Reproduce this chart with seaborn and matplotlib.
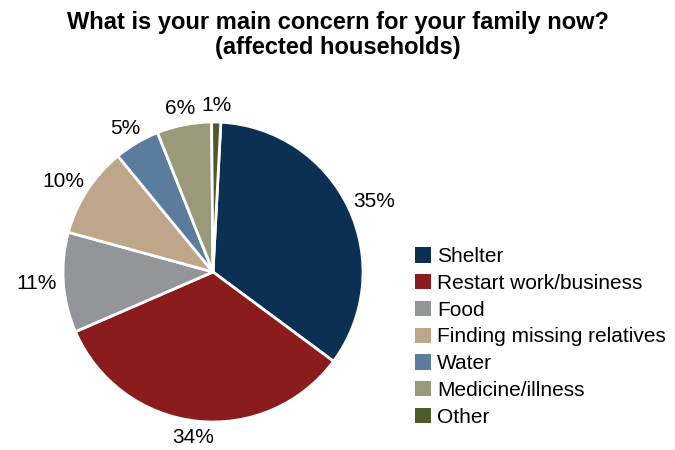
import matplotlib
matplotlib.use("Agg")
import numpy as np
import matplotlib.pyplot as plt
import seaborn as sns
from matplotlib.patches import Patch

sns.set_style("white")
plt.rcParams['font.family'] = ['Liberation Sans', 'DejaVu Sans']
plt.rcParams['text.color'] = 'black'

categories = ["Shelter", "Restart work/business", "Food", "Finding missing relatives",
              "Water", "Medicine/illness", "Other"]
values = [35, 34, 11, 10, 5, 6, 1]
labels = ["35%", "34%", "11%", "10%", "5%", "6%", "1%"]
colors = ["#0b3054", "#8b1c1e", "#939598", "#bea68a", "#5a7d9e", "#9a9a7b", "#4e5a2b"]

W, H = 675, 450
fig = plt.figure(figsize=(W / 100, H / 100), dpi=100)
cx, cy, r = 213, 272, 150
ax = fig.add_axes([(cx - r) / W, (H - cy - r) / H, 2 * r / W, 2 * r / H])
wedges, texts = ax.pie(values, colors=colors, labels=labels, startangle=87, counterclock=False,
                       labeldistance=1.1, radius=1,
                       wedgeprops=dict(edgecolor="white", linewidth=2),
                       textprops=dict(fontsize=15, color="black"))
ax.set_xlim(-1, 1)
ax.set_ylim(-1, 1)
ax.set_aspect("equal")
ax.axis("off")

# place each label just outside the pie, box edge at a fixed gap (outside-end style)
fig.canvas.draw()
renderer = fig.canvas.get_renderer()
center_px = ax.transData.transform((0, 0))
r_px = ax.transData.transform((1, 0))[0] - center_px[0]
gap = 7
for w, t in zip(wedges, texts):
    t.set_ha("center")
    t.set_va("center")
    ang = np.deg2rad((w.theta1 + w.theta2) / 2)
    bb = t.get_window_extent(renderer)
    d = np.array([np.cos(ang), np.sin(ang)])
    pos = center_px + (r_px + gap) * d + np.array([bb.width / 2 * d[0], bb.height / 2 * d[1]])
    t.set_position(ax.transData.inverted().transform(pos))

fig.text(0.5, 1 - 11 / H, "What is your main concern for your family now?\n(affected households)",
         ha="center", va="top", fontsize=17, fontweight="bold", linespacing=1.1, color="black")

handles = [Patch(facecolor=c, edgecolor="none") for c in colors]
fig.legend(handles, categories, loc="upper left", bbox_to_anchor=(407 / W, 1 - 239 / H),
           frameon=False, fontsize=15, handlelength=0.75, handleheight=0.75,
           handletextpad=0.3, labelspacing=0.37, borderaxespad=0)

fig.savefig("out.png", dpi=100)
